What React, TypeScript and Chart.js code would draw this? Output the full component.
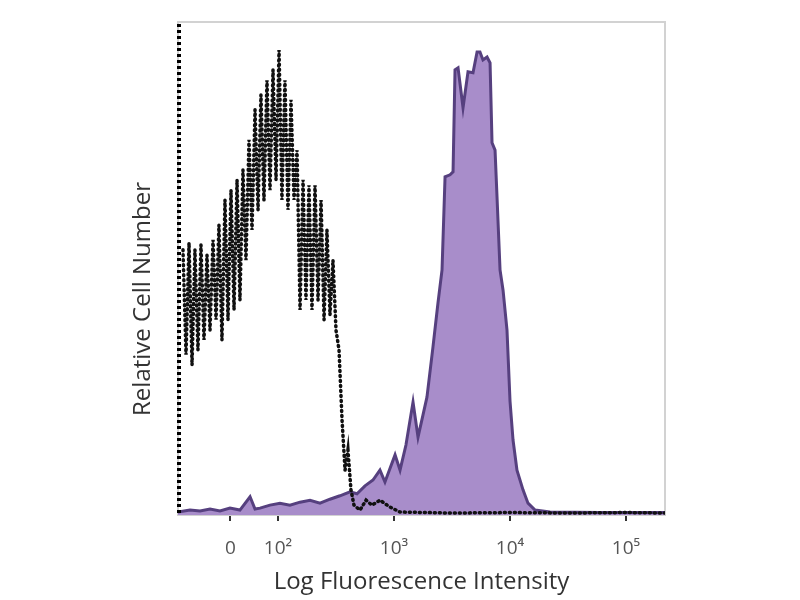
import React, { useEffect, useRef } from "react";
import { Chart, registerables } from "chart.js";

Chart.register(...registerables);

// x in decade units (2 = 10^2, 3 = 10^3 ...), y = relative cell count (% of max)
const controlX = [
  1.181, 1.207, 1.233, 1.259, 1.284, 1.31, 1.336, 1.362, 1.388, 1.414, 1.44, 1.466, 1.491, 1.517,
  1.543, 1.569, 1.595, 1.621, 1.647, 1.672, 1.698, 1.724, 1.75, 1.776, 1.802, 1.828, 1.853, 1.879,
  1.905, 1.931, 1.957, 1.983, 2.009, 2.034, 2.06, 2.086, 2.112, 2.138, 2.164, 2.19, 2.216, 2.241,
  2.267, 2.293, 2.319, 2.345, 2.371, 2.397, 2.422, 2.448, 2.474, 2.5, 2.526, 2.552, 2.578, 2.603,
  2.629, 2.655, 2.707, 2.759, 2.81, 2.879, 2.966, 3.052, 3.5, 4.0, 4.5, 5.0, 5.336,
];
const controlY = [
  53.8, 32.5, 55.2, 30.4, 53.8, 33.5, 54.8, 35.5, 52.7, 37.5, 55.8, 39.6, 58.8, 35.5,
  63.9, 39.6, 65.9, 41.6, 68.0, 43.6, 70.0, 51.7, 76.1, 57.8, 82.2, 61.9, 85.2, 63.9,
  88.2, 65.9, 90.3, 68.0, 94.3, 63.9, 88.2, 61.9, 84.2, 63.9, 74.0, 41.6, 68.0, 43.6,
  66.9, 41.6, 66.9, 43.6, 63.9, 39.6, 57.8, 40.6, 51.7, 37.5, 33.5, 19.3, 9.1, 13.2,
  5.1, 2.0, 1.0, 3.0, 2.0, 3.0, 1.6, 0.6, 0.4, 0.5, 0.4, 0.5, 0.4,
];

const stainedX = [
  1.138, 1.241, 1.328, 1.414, 1.5, 1.586, 1.672, 1.759, 1.802, 1.845, 1.931, 2.017, 2.103, 2.19,
  2.276, 2.362, 2.448, 2.534, 2.621, 2.681, 2.75, 2.819, 2.879, 2.922, 2.966, 3.009, 3.052, 3.103,
  3.164, 3.207, 3.25, 3.284, 3.336, 3.379, 3.414, 3.44, 3.483, 3.509, 3.526, 3.552, 3.595, 3.638,
  3.681, 3.716, 3.741, 3.767, 3.802, 3.828, 3.845, 3.871, 3.888, 3.914, 3.94, 3.974, 4.0, 4.026,
  4.06, 4.112, 4.155, 4.216, 4.345, 4.776, 5.336,
];
const stainedY = [
  0.6, 1.0, 0.8, 1.2, 0.8, 1.4, 1.0, 3.7, 1.2, 1.4, 2.0, 2.4, 2.0, 2.6,
  3.0, 2.4, 3.2, 3.9, 4.7, 4.3, 5.9, 7.1, 9.1, 6.7, 9.5, 12.2, 9.1, 14.2,
  22.9, 15.8, 20.3, 23.9, 34.1, 43.0, 49.7, 68.6, 69.0, 69.6, 90.3, 90.7, 82.6, 89.9,
  89.7, 93.9, 93.9, 92.3, 92.9, 91.7, 75.5, 74.0, 64.5, 49.7, 45.6, 37.5, 23.1, 15.2,
  9.1, 5.1, 2.4, 1.0, 0.6, 0.5, 0.5,
];

const tickValues = [1.59, 2, 3, 4, 5];
const tickLabels = ["0", "10\u00B2", "10\u00B3", "10\u2074", "10\u2075"];

const xTitle = "Log Fluorescence Intensity";
const yTitle = "Relative Cell Number";

const framePlugin = {
  id: "frame",
  beforeDatasetsDraw(chart: any) {
    const { ctx, chartArea } = chart;
    ctx.save();
    ctx.strokeStyle = "#d2d2d2";
    ctx.lineWidth = 2;
    ctx.strokeRect(chartArea.left, chartArea.top, chartArea.right - chartArea.left, chartArea.bottom - chartArea.top);
    ctx.restore();
  },
  afterDraw(chart: any) {
    const { ctx, chartArea } = chart;
    ctx.save();
    ctx.strokeStyle = "#000";
    ctx.lineWidth = 4;
    ctx.setLineDash([3, 3]);
    ctx.beginPath();
    ctx.moveTo(chartArea.left + 1, chartArea.top + 2);
    ctx.lineTo(chartArea.left + 1, chartArea.bottom);
    ctx.stroke();
    ctx.restore();

    ctx.save();
    ctx.translate(chartArea.left - 35, 299);
    ctx.rotate(-Math.PI / 2);
    ctx.font = "24px 'Open Sans', sans-serif";
    ctx.fillStyle = "#333";
    ctx.textAlign = "center";
    ctx.textBaseline = "middle";
    ctx.fillText(yTitle, 0, 0);
    ctx.restore();
  },
};

export default function App() {
  const ref = useRef<HTMLCanvasElement>(null);
  useEffect(() => {
    if (!ref.current) return;
    const chart = new Chart(ref.current, {
      type: "line",
      data: {
        datasets: [
          {
            label: "Control",
            data: controlX.map((x, i) => ({ x, y: controlY[i] })),
            borderColor: "#111",
            borderWidth: 3.5,
            borderDash: [1, 4],
            borderCapStyle: "round",
            pointRadius: 0,
            fill: false,
            tension: 0,
            order: 0,
          },
          {
            label: "Stained",
            data: stainedX.map((x, i) => ({ x, y: stainedY[i] })),
            borderColor: "#56407f",
            backgroundColor: "#a88dca",
            borderWidth: 3,
            pointRadius: 0,
            fill: "origin",
            tension: 0,
            order: 1,
          },
        ],
      },
      options: {
        responsive: false,
        animation: false,
        layout: { padding: { left: 138, right: 135, top: 22, bottom: 0 } },
        plugins: { legend: { display: false }, tooltip: { enabled: false } },
        scales: {
          x: {
            type: "linear",
            min: 1.138,
            max: 5.336,
            afterFit(s: any) {
              s.height = 85;
            },
            afterBuildTicks(s: any) {
              s.ticks = tickValues.map((v) => ({ value: v }));
            },
            ticks: {
              autoSkip: false,
              maxRotation: 0,
              padding: 16,
              color: "#555",
              font: { family: "'Open Sans', sans-serif", size: 19 },
              callback: (v: any) => {
                const i = tickValues.indexOf(Number(v));
                return i >= 0 ? tickLabels[i] : "";
              },
            },
            grid: { display: true, drawOnChartArea: false, drawTicks: true, tickLength: 6, color: "#333", lineWidth: 2 },
            border: { display: true, color: "#222", width: 2 },
            title: {
              display: true,
              text: xTitle,
              color: "#333",
              font: { family: "'Open Sans', sans-serif", size: 24 },
              padding: { top: 0, bottom: 3 },
            },
          },
          y: {
            min: 0,
            max: 100,
            afterFit(s: any) {
              s.width = 40;
            },
            ticks: { display: false },
            grid: { display: false, drawTicks: false },
            border: { display: false },
          },
        },
      },
      plugins: [framePlugin],
    });
    return () => chart.destroy();
  }, []);
  return (
    <div style={{ position: "absolute", left: 0, top: 0, width: 800, height: 600, background: "#fff" }}>
      <canvas ref={ref} width={800} height={600} style={{ display: "block" }} />
    </div>
  );
}
